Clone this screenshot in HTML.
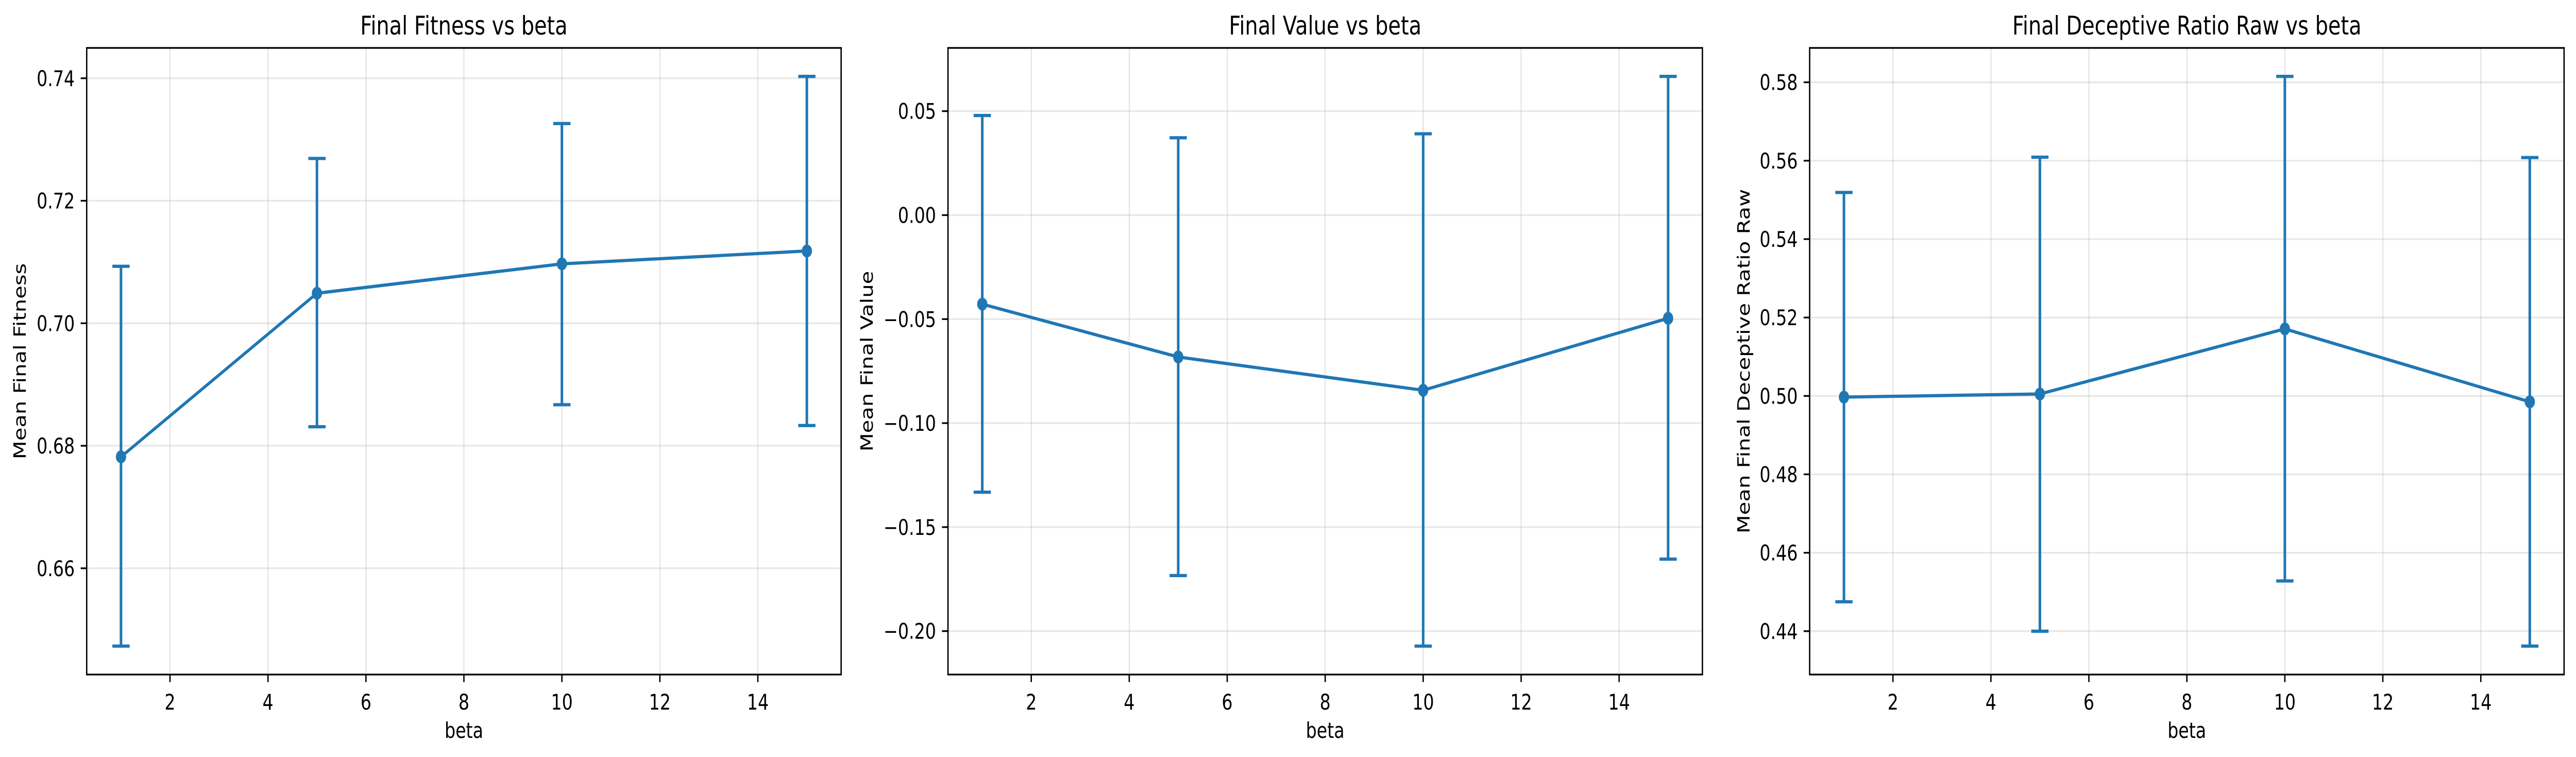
<!DOCTYPE html>
<html><head><meta charset="utf-8"><style>
html,body{margin:0;padding:0;background:#fff;overflow:hidden;width:100%;height:100%}
svg{display:block;width:100vw;height:100vh}
text{font-family:"DejaVu Sans","Liberation Sans",sans-serif;fill:#000}
</style></head><body>
<svg id="fig" viewBox="0 0 6269 1469" preserveAspectRatio="none" xmlns="http://www.w3.org/2000/svg"></svg>
<script>
const betas = [1, 5, 10, 15];
const fitnessMean = [0.6782, 0.7049, 0.7097, 0.7118];
const fitnessLow = [0.6473, 0.6831, 0.6867, 0.6833];
const fitnessHigh = [0.7093, 0.7269, 0.7326, 0.7403];
const valueMean = [-0.0428, -0.0682, -0.0842, -0.0496];
const valueLow = [-0.1332, -0.1733, -0.2072, -0.1654];
const valueHigh = [0.0479, 0.0372, 0.0391, 0.0667];
const ratioMean = [0.4997, 0.5005, 0.5171, 0.4985];
const ratioLow = [0.4475, 0.4400, 0.4528, 0.4362];
const ratioHigh = [0.5519, 0.5609, 0.5815, 0.5608];
const xTicks = [2, 4, 6, 8, 10, 12, 14];
const fitnessTicks = [0.66, 0.68, 0.70, 0.72, 0.74];
const valueTicks = [-0.20, -0.15, -0.10, -0.05, 0.00, 0.05];
const ratioTicks = [0.44, 0.46, 0.48, 0.50, 0.52, 0.54, 0.56, 0.58];

const NS = "http://www.w3.org/2000/svg";
const svg = document.getElementById('fig');
function mk(tag, attrs, parent) {
  const e = document.createElementNS(NS, tag);
  for (const k in attrs) e.setAttribute(k, attrs[k]);
  (parent || svg).appendChild(e);
  return e;
}
function fmtTick(v, d) {
  const s = Math.abs(v).toFixed(d);
  return (v < -1e-9 ? '\u2212' : '') + s;
}
const C = '#1f77b4';
const TOP = 93, BOT = 1309, W = 1836;

function panel(idx, left, title, ylabel, ylabelX, mean, low, high, yTicks, dec) {
  const g = mk('g', {});
  
  
  const right = left + W;
  const xmin = Math.min(...betas), xmax = Math.max(...betas);
  const xr = xmax - xmin;
  const x0 = xmin - 0.05 * xr, x1 = xmax + 0.05 * xr;
  const ymin = Math.min(...low), ymax = Math.max(...high);
  const yr = ymax - ymin;
  const y0 = ymin - 0.05 * yr, y1 = ymax + 0.05 * yr;
  const sx = v => left + (v - x0) / (x1 - x0) * W;
  const sy = v => BOT - (v - y0) / (y1 - y0) * (BOT - TOP);

  xTicks.forEach(t => {
    const gl = mk('line', {x1: sx(t), x2: sx(t), y1: TOP, y2: BOT, stroke: '#b0b0b0', 'stroke-opacity': 0.3, 'stroke-width': 3.3}, g);
    
    
    const tk = mk('line', {x1: sx(t), x2: sx(t), y1: BOT, y2: BOT + 14.6, stroke: '#000', 'stroke-width': 3.3}, g);
    
    
    const tl = mk('text', {x: sx(t), y: BOT + 68, 'font-size': 41.7, 'text-anchor': 'middle'}, g);
    tl.textContent = String(t);
    
    
  });
  yTicks.forEach(t => {
    const gl = mk('line', {x1: left, x2: right, y1: sy(t), y2: sy(t), stroke: '#b0b0b0', 'stroke-opacity': 0.3, 'stroke-width': 3.3}, g);
    
    
    const tk = mk('line', {x1: left - 14.6, x2: left, y1: sy(t), y2: sy(t), stroke: '#000', 'stroke-width': 3.3}, g);
    
    
    const tl = mk('text', {x: left - 29, y: sy(t) + 15, 'font-size': 41.7, 'text-anchor': 'end'}, g);
    tl.textContent = fmtTick(t, dec);
    
    
  });
  betas.forEach((b, i) => {
    const eb = mk('line', {x1: sx(b), x2: sx(b), y1: sy(low[i]), y2: sy(high[i]), stroke: C, 'stroke-width': 6.25}, g);
    
    
    [low[i], high[i]].forEach(v => {
      const cap = mk('line', {x1: sx(b) - 21, x2: sx(b) + 21, y1: sy(v), y2: sy(v), stroke: C, 'stroke-width': 6.25}, g);
      
      
    });
  });
  const line = mk('polyline', {points: betas.map((b, i) => sx(b) + ',' + sy(mean[i])).join(' '), fill: 'none', stroke: C, 'stroke-width': 6.25, 'stroke-linejoin': 'round'}, g);
  
  
  betas.forEach((b, i) => {
    const pt = mk('circle', {cx: sx(b), cy: sy(mean[i]), r: 12.5, fill: C}, g);
    
    
  });
  const fr = mk('rect', {x: left, y: TOP, width: W, height: BOT - TOP, fill: 'none', stroke: '#000', 'stroke-width': 3.3}, g);
  
  
  const tt = mk('text', {x: left + W / 2, y: 67, 'font-size': 50, 'text-anchor': 'middle'}, g);
  tt.textContent = title;
  
  
  const xl = mk('text', {x: left + W / 2, y: 1432, 'font-size': 41.7, 'text-anchor': 'middle'}, g);
  xl.textContent = 'beta';
  
  
  const yl = mk('text', {x: 0, y: 0, 'font-size': 41.7, 'text-anchor': 'middle', transform: 'translate(' + (ylabelX + 15) + ',' + ((TOP + BOT) / 2) + ') rotate(-90)'}, g);
  yl.textContent = ylabel;
  
  
}
panel(1, 211, 'Final Fitness vs beta', 'Mean Final Fitness', 48, fitnessMean, fitnessLow, fitnessHigh, fitnessTicks, 2);
panel(2, 2307, 'Final Value vs beta', 'Mean Final Value', 2109, valueMean, valueLow, valueHigh, valueTicks, 2);
panel(3, 4404, 'Final Deceptive Ratio Raw vs beta', 'Mean Final Deceptive Ratio Raw', 4243, ratioMean, ratioLow, ratioHigh, ratioTicks, 2);
</script>
</body></html>
